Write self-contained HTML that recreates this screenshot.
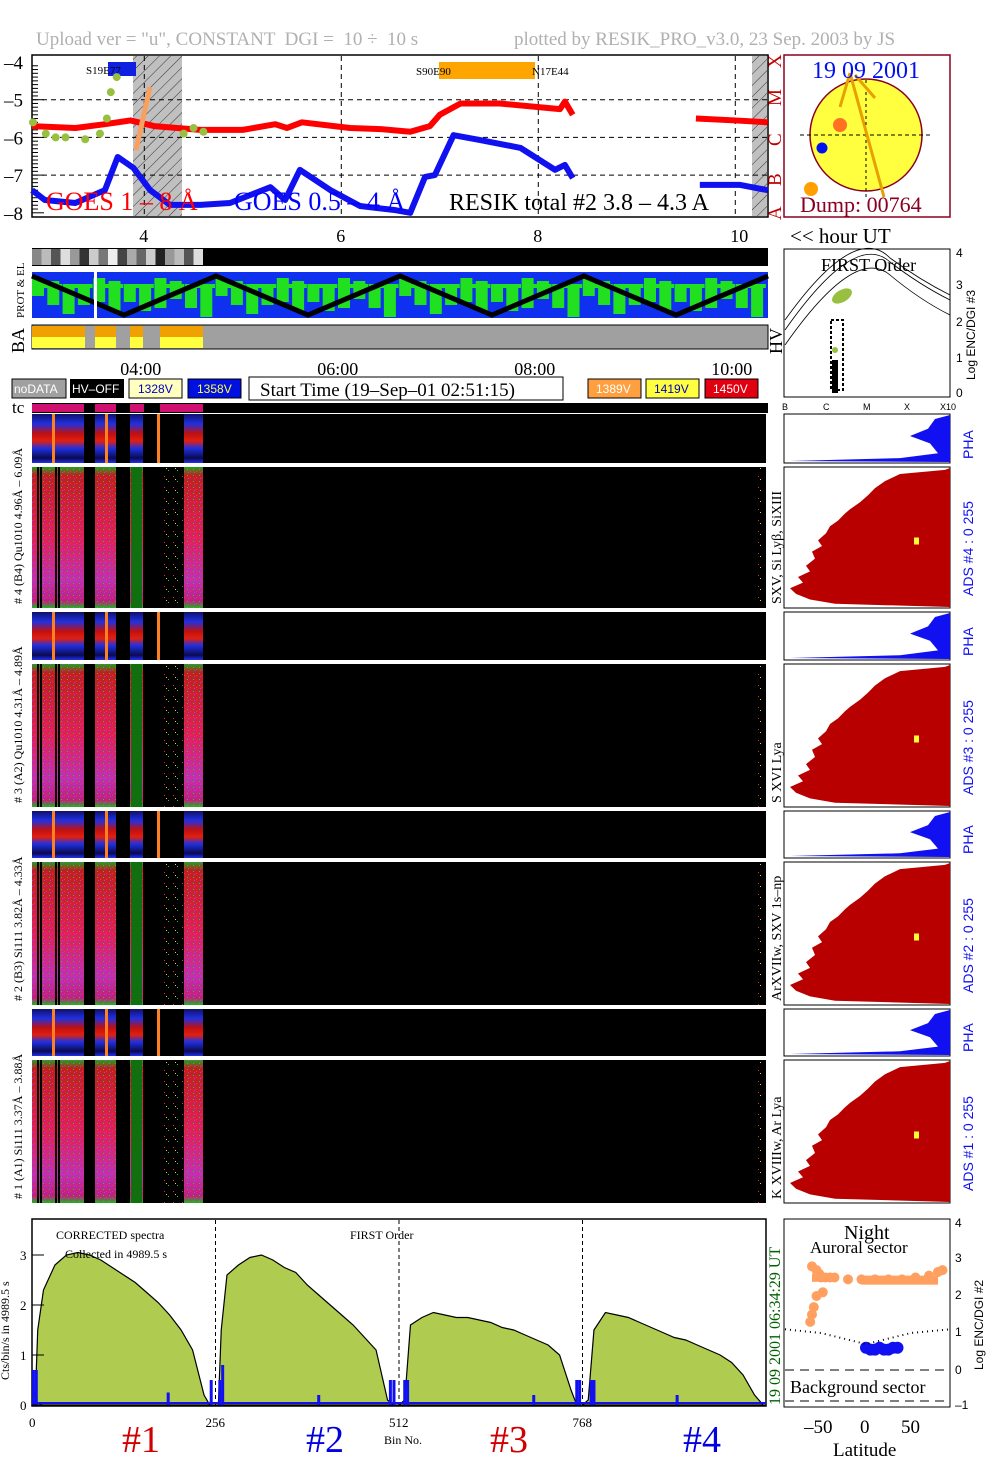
<!DOCTYPE html>
<html><head><meta charset="utf-8"><title>RESIK quicklook</title>
<style>
html,body{margin:0;padding:0;background:#fff;}
svg{display:block;font-family:"Liberation Serif",serif;}
</style></head>
<body>
<svg id="main" width="1004" height="1477" viewBox="0 0 1004 1477" xmlns="http://www.w3.org/2000/svg">
<defs>
<pattern id="hatch" width="8" height="8" patternUnits="userSpaceOnUse" patternTransform="rotate(45)">
<rect width="8" height="8" fill="#c0c0c0"/><line x1="0" y1="0" x2="0" y2="8" stroke="#333" stroke-width="1"/></pattern>
<linearGradient id="phaGrad" x1="0" y1="0" x2="0" y2="1">
<stop offset="0" stop-color="#10106a"/><stop offset="0.2" stop-color="#2030e0"/><stop offset="0.4" stop-color="#c01010"/><stop offset="0.55" stop-color="#e02010"/><stop offset="0.7" stop-color="#2030e0"/><stop offset="0.9" stop-color="#0a0a50"/><stop offset="1" stop-color="#2030f0"/></linearGradient>
<linearGradient id="bigGrad" x1="0" y1="0" x2="0" y2="1">
<stop offset="0" stop-color="#20a020"/><stop offset="0.06" stop-color="#c02020"/><stop offset="0.5" stop-color="#e0205a"/><stop offset="0.8" stop-color="#c030b0"/><stop offset="0.95" stop-color="#c02080"/><stop offset="1" stop-color="#20b020"/></linearGradient>
<pattern id="noise" width="6" height="6" patternUnits="userSpaceOnUse">
<rect width="6" height="6" fill="none"/><rect x="1" y="1" width="1" height="1" fill="#30c030"/><rect x="4" y="3" width="1" height="1" fill="#ff3030"/><rect x="2" y="4" width="1" height="1" fill="#a040ff"/></pattern>
<pattern id="sparse" width="9" height="11" patternUnits="userSpaceOnUse">
<rect x="2" y="3" width="1" height="1" fill="#ff2040"/><rect x="6" y="8" width="1" height="1" fill="#30c030"/><rect x="4" y="6" width="1" height="1" fill="#e0e020"/></pattern>
</defs>

<text x="36" y="45" font-size="19" fill="#b0b0b0" xml:space="preserve">Upload ver = "u", CONSTANT  DGI =  10 ÷  10 s</text>
<text x="514" y="45" font-size="19" fill="#b0b0b0">plotted by RESIK_PRO_v3.0, 23 Sep. 2003 by JS</text>

<g id="goes">
<rect x="32" y="55" width="736" height="162" fill="#fff" stroke="#000" stroke-width="1.5"/>
<rect x="133" y="56" width="49" height="160" fill="url(#hatch)"/>
<rect x="752" y="56" width="15" height="160" fill="url(#hatch)"/>
<g id="goesGrid" stroke="#000" stroke-dasharray="5,4" stroke-width="1"></g>
<g id="goesTicks"></g>
<rect x="108" y="62" width="28" height="14" fill="#1020e0"/>
<text x="86" y="74" font-size="11" fill="#000">S19E77</text>
<rect x="439" y="62" width="96" height="17" fill="#ffa500"/>
<text x="416" y="75" font-size="11" fill="#000">S90E90</text>
<text x="532" y="75" font-size="11" fill="#000">N17E44</text>
<g id="goesLines"></g>
<text x="46" y="210" font-size="26" fill="#ff0000">GOES 1 – 8 Å</text>
<text x="234" y="210" font-size="26" fill="#0000ff">GOES 0.5 – 4 Å</text>
<text x="449" y="210" font-size="24" fill="#000">RESIK total #2  3.8 – 4.3 A</text>
<g font-size="19" fill="#c00000">
<text transform="translate(781,220) rotate(-90)">A</text>
<text transform="translate(781,186) rotate(-90)">B</text>
<text transform="translate(781,146) rotate(-90)">C</text>
<text transform="translate(781,106) rotate(-90)">M</text>
<text transform="translate(781,68) rotate(-90)">X</text>
</g>
</g>
<g id="xAxisHours" font-size="18" fill="#000"></g>
<text x="790" y="243" font-size="21">&lt;&lt; hour UT</text>

<g>
<rect x="784" y="55" width="166" height="162" fill="#fff" stroke="#8b0020" stroke-width="1.5"/>
<circle cx="866" cy="135" r="56" fill="#ffff40" stroke="#8b0020" stroke-width="1.5"/>
<line x1="800" y1="135" x2="932" y2="135" stroke="#000" stroke-dasharray="4,3"/>
<line x1="866" y1="80" x2="866" y2="200" stroke="#000" stroke-dasharray="3,3"/>
<g stroke="#e8a000" stroke-width="3"><line x1="850" y1="73" x2="840" y2="107"/><line x1="850" y1="73" x2="884" y2="197"/><line x1="855" y1="75" x2="875" y2="98"/></g>
<circle cx="840" cy="125" r="7" fill="#ff7020"/>
<circle cx="822" cy="148" r="5.5" fill="#0010f0"/>
<circle cx="811" cy="189" r="7" fill="#ffa000"/>
<text x="812" y="78" font-size="24" fill="#0010f0">19 09 2001</text>
<text x="800" y="212" font-size="22" fill="#8b0020">Dump: 00764</text>
</g>

<g>
<rect x="32" y="248" width="736" height="18" fill="#000"/>
<g id="grayStrip"></g>
<rect x="32" y="272" width="736" height="46" fill="#1030f0"/>
<g id="greenBand"></g>
<polyline id="zigzag" fill="none" stroke="#000" stroke-width="5"/>
<rect x="94" y="272" width="3" height="46" fill="#fff"/>
<rect x="32" y="325" width="736" height="24" fill="#a0a0a0" stroke="#000"/>
<rect x="32" y="326" width="171" height="11" fill="#f0a000"/>
<rect x="32" y="337" width="171" height="11" fill="#ffff40"/>
<rect x="85" y="326" width="10" height="22" fill="#a0a0a0"/><rect x="116" y="326" width="14" height="22" fill="#a0a0a0"/><rect x="143" y="326" width="17" height="22" fill="#a0a0a0"/>
<text transform="translate(24,318) rotate(-90)" font-size="11">PROT &amp; EL</text>
<text transform="translate(24,353) rotate(-90)" font-size="18">BA</text>
<text transform="translate(782,354) rotate(-90)" font-size="18">HV</text>
</g>
<g id="timeLabels" font-size="18"></g>

<g font-family="Liberation Sans, sans-serif" font-size="12">
<rect x="12" y="379" width="54" height="19" fill="#a0a0a0" stroke="#000"/><text x="14" y="393" fill="#fff">noDATA</text>
<rect x="70" y="379" width="54" height="19" fill="#000"/><text x="72" y="393" fill="#fff">HV–OFF</text>
<rect x="129" y="379" width="53" height="19" fill="#ffffc0" stroke="#000"/><text x="138" y="393" fill="#0000c0">1328V</text>
<rect x="188" y="379" width="53" height="19" fill="#0010e0" stroke="#000"/><text x="197" y="393" fill="#ffff40">1358V</text>
<rect x="588" y="379" width="53" height="19" fill="#ffa040" stroke="#000"/><text x="596" y="393" fill="#fff">1389V</text>
<rect x="646" y="379" width="53" height="19" fill="#ffff40" stroke="#000"/><text x="654" y="393" fill="#0000c0">1419V</text>
<rect x="705" y="379" width="53" height="19" fill="#e00010" stroke="#000"/><text x="713" y="393" fill="#fff">1450V</text>
</g>
<rect x="249" y="377" width="314" height="23" fill="#fff" stroke="#000"/>
<text x="260" y="396" font-size="19">Start Time (19–Sep–01 02:51:15)</text>

<text x="12" y="413" font-size="17">tc</text>
<rect x="32" y="403" width="736" height="10" fill="#000"/>
<g id="tcBar"></g>

<g id="panels"></g>

<g id="spectrum">
<rect x="32" y="1219" width="734" height="187" fill="#fff" stroke="#000" stroke-width="1.5"/>
<g id="specMarks"></g>
<text x="56" y="1239" font-size="12">CORRECTED spectra</text>
<text x="65" y="1258" font-size="12">Collected in  4989.5 s</text>
<text x="350" y="1239" font-size="12">FIRST Order</text>
<text transform="translate(9,1380) rotate(-90)" font-size="12">Cts/bin/s in  4989.5 s</text>
<text x="384" y="1444" font-size="12">Bin No.</text>
<text x="122" y="1452" font-size="38" fill="#d00000">#1</text>
<text x="306" y="1452" font-size="38" fill="#0000e0">#2</text>
<text x="490" y="1452" font-size="38" fill="#d00000">#3</text>
<text x="683" y="1452" font-size="38" fill="#0000e0">#4</text>
<text transform="translate(780,1405) rotate(-90)" font-size="16" fill="#006000">19 09 2001    06:34:29 UT</text>
</g>

<g>
<rect x="784" y="249" width="166" height="148" fill="#fff" stroke="#000"/>
<text x="821" y="271" font-size="18">FIRST Order</text>
<path d="M785 330 Q 855 230 890 262 Q 920 285 950 300" fill="none" stroke="#000" stroke-width="0.8"/>
<path d="M785 345 Q 855 245 890 275 Q 920 300 950 315" fill="none" stroke="#000" stroke-width="0.8"/>
<path d="M785 320 Q 855 222 890 258 Q 920 280 950 295" fill="none" stroke="#000" stroke-width="0.8"/>
<ellipse cx="842" cy="296" rx="11" ry="6" fill="#98c040" transform="rotate(-30 842 296)"/>
<circle cx="835" cy="350" r="3" fill="#98c040"/>
<rect x="831" y="320" width="12" height="70" fill="none" stroke="#000" stroke-width="2" stroke-dasharray="3,2"/>
<rect x="832" y="360" width="6" height="33" fill="#000"/>
<g font-size="12" font-family="Liberation Sans, sans-serif"><text x="956" y="257">4</text><text x="956" y="289">3</text><text x="956" y="326">2</text><text x="956" y="362">1</text><text x="956" y="397">0</text></g>
<text transform="translate(975,380) rotate(-90)" font-size="12" font-family="Liberation Sans, sans-serif">Log ENC/DGI #3</text>
<g font-size="9" font-family="Liberation Sans, sans-serif"><text x="782" y="410">B</text><text x="823" y="410">C</text><text x="863" y="410">M</text><text x="904" y="410">X</text><text x="940" y="410">X10</text></g>
</g>

<g id="latPanel">
<rect x="784" y="1219" width="166" height="188" fill="#fff" stroke="#000"/>
<text x="844" y="1239" font-size="20">Night</text>
<text x="810" y="1253" font-size="17">Auroral sector</text>
<line x1="785" y1="1370" x2="950" y2="1370" stroke="#000" stroke-dasharray="9,6"/>
<line x1="785" y1="1401" x2="950" y2="1401" stroke="#000" stroke-dasharray="9,6"/>
<text x="790" y="1393" font-size="18">Background sector</text>
<g id="latMarks"></g>
<g font-size="12" font-family="Liberation Sans, sans-serif"><text x="955" y="1227">4</text><text x="955" y="1262">3</text><text x="955" y="1299">2</text><text x="955" y="1336">1</text><text x="955" y="1374">0</text><text x="955" y="1409">–1</text></g>
<text transform="translate(983,1370) rotate(-90)" font-size="12" font-family="Liberation Sans, sans-serif">Log ENC/DGI #2</text>
<g font-size="19"><text x="804" y="1433">–50</text><text x="860" y="1433">0</text><text x="901" y="1433">50</text></g>
<text x="833" y="1456" font-size="19">Latitude</text>
</g>

<script>
const goesRedHours = [2.86,3.3,3.6,3.86,4.1,4.57,5.0,5.33,5.45,5.6,6.09,6.4,6.70,6.9,7.0,7.21,7.61,8.22,8.27,8.35];
const goesRedLog   = [-5.7,-5.75,-5.65,-5.55,-5.7,-5.8,-5.8,-5.65,-5.75,-5.6,-5.75,-5.78,-5.85,-5.7,-5.4,-5.1,-5.1,-5.25,-5.05,-5.4];
const goesRedHours2 = [9.6,10.0,10.33];
const goesRedLog2   = [-5.5,-5.55,-5.6];
const goesBlueHours = [2.86,2.99,3.30,3.60,3.73,3.89,4.06,4.26,4.57,4.87,5.28,5.43,5.58,5.89,6.19,6.55,6.70,6.85,6.95,7.14,7.41,7.82,8.17,8.27,8.35];
const goesBlueLog   = [-7.40,-7.66,-7.74,-7.40,-6.52,-6.81,-7.40,-7.79,-7.79,-7.74,-7.32,-7.66,-6.86,-7.40,-7.82,-7.93,-8.0,-7.05,-7.0,-5.94,-6.07,-6.28,-6.86,-6.73,-7.08];
const goesBlueHours2 = [9.64,10.05,10.33];
const goesBlueLog2   = [-7.26,-7.26,-7.40];
const greenHours = [2.87,3.0,3.1,3.2,3.4,3.55,3.62,3.66,3.72,4.4,4.5,4.6];
const greenLog   = [-5.6,-5.9,-6.0,-6.0,-6.05,-5.9,-5.5,-4.8,-4.4,-5.9,-5.75,-5.85];
const hourTicks = [4,6,8,10];
const logTicks = [-4,-5,-6,-7,-8];

const specBins = [0,5,8,16,32,48,64,80,96,112,128,144,160,176,192,208,224,240,248,256,260,264,272,288,304,320,336,352,368,384,400,416,432,448,464,480,496,504,512,520,528,544,560,576,592,608,624,640,656,672,688,704,720,736,752,760,768,776,784,800,816,832,848,864,880,896,912,928,944,960,976,992,1008,1020,1023];
const specCounts = [0,0.3,1.5,2.3,2.8,3.0,3.05,3.0,2.9,2.75,2.6,2.45,2.25,2.05,1.8,1.5,1.1,0.2,0,0,0,1.5,2.6,2.8,2.95,3.0,2.9,2.75,2.65,2.4,2.2,2.0,1.8,1.6,1.35,1.1,0.1,0,0,0.1,1.6,1.75,1.85,1.8,1.75,1.75,1.7,1.65,1.55,1.5,1.4,1.3,1.2,1.0,0.3,0,0,0.1,1.5,1.85,1.8,1.75,1.65,1.55,1.45,1.35,1.3,1.2,1.1,1.0,0.85,0.6,0.2,0,0];
const bgBins = [2,6,12,190,250,262,266,400,500,505,520,524,700,760,764,780,784,900];
const bgCounts = [0.7,0.7,0.05,0.25,0.5,0.5,0.8,0.2,0.5,0.5,0.5,0.5,0.2,0.5,0.5,0.5,0.5,0.2];
const specYTicks = [0,1,2,3];
const specXTicks = [0,256,512,768];

const auroralLat = [-60,-55,-52,-50,-45,-40,-35,-20,-5,10,25,40,55,70,80,85,-55,-58,-60,-48,-62];
const auroralLog = [2.8,2.7,2.6,2.5,2.5,2.5,2.5,2.45,2.45,2.45,2.45,2.45,2.5,2.55,2.65,2.7,2.0,1.7,1.5,2.1,1.3];
const quietLat = [0,5,10,15,20,25,30,35];
const quietLog = [0.6,0.55,0.55,0.6,0.55,0.55,0.6,0.6];

const NS = "http://www.w3.org/2000/svg";
function mk(tag, attrs, parent){const e=document.createElementNS(NS,tag);for(const k in attrs)e.setAttribute(k,attrs[k]);parent.appendChild(e);return e;}

const gx = h => 32 + (h - 2.86) * 98.5;
const gy = l => 62 + (-4 - l) * 37.7;
const grid = document.getElementById('goesGrid');
for (const t of hourTicks){ if(t<10.4){const l=mk('line',{x1:gx(t),y1:56,x2:gx(t),y2:216},grid);

}}
for (const t of [-5,-6,-7]){const l=mk('line',{x1:33,y1:gy(t),x2:767,y2:gy(t)},grid);

}
const ticks = document.getElementById('goesTicks');
for (const t of logTicks){const tx=mk('text',{x:4,y:gy(t)+7,'font-size':19},ticks);tx.textContent='–'+Math.abs(t);

}
for (let v=-8; v<=-4.01; v+=0.1){mk('line',{x1:32,y1:gy(v),x2:(Math.abs(v-Math.round(v))<0.01?44:38),y2:gy(v),stroke:'#000'},ticks);}
const xa = document.getElementById('xAxisHours');
for (const t of hourTicks){const tx=mk('text',{x:gx(t)-5,y:242},xa);tx.textContent=t;

}
const gl = document.getElementById('goesLines');
function series(hs, ls, color, w, name){
  const p = mk('polyline',{points:hs.map((h,i)=>gx(h)+','+gy(ls[i])).join(' '),fill:'none',stroke:color,'stroke-width':w,'stroke-linejoin':'round'},gl);
  
  
}
series(goesRedHours,goesRedLog,'#ff0000',6,'goes-long-series');
series(goesRedHours2,goesRedLog2,'#ff0000',6,'goes-long-series-late');
series(goesBlueHours,goesBlueLog,'#1010f0',6,'goes-short-series');
series(goesBlueHours2,goesBlueLog2,'#1010f0',6,'goes-short-series-late');
greenHours.forEach((h,i)=>{const c=mk('circle',{cx:gx(h),cy:gy(greenLog[i]),r:4,fill:'#98c040'},gl);

});
mk('line',{x1:136,y1:150,x2:150,y2:87,stroke:'#f8a060','stroke-width':5},gl);

const gs = document.getElementById('grayStrip');
const grays=['#888','#bbb','#555','#ddd','#999','#333','#ccc','#777','#eee','#444','#aaa','#666','#ccc','#222','#999','#bbb','#555','#ddd'];
grays.forEach((c,i)=>mk('rect',{x:32+i*9.5,y:249,width:9.5,height:16,fill:c},gs));
const gb = document.getElementById('greenBand');
for(let i=0;i<48;i++){mk('rect',{x:32+i*15.3,y:278+(i%4)*3,width:12,height:18+(i%3)*6,fill:'#20e020'},gb);}
for(let i=0;i<24;i++){mk('rect',{x:36+i*30.6,y:284,width:26,height:4,fill:'#20e020'},gb);}
const zz=[]; for(let i=0;i<=8;i++){zz.push((32+i*92)+','+(i%2===0?276:315));}
document.getElementById('zigzag').setAttribute('points',zz.join(' '));
const tl=document.getElementById('timeLabels');
['04:00','06:00','08:00','10:00'].forEach((s,i)=>{const tx=mk('text',{x:gx(hourTicks[i])-24,y:375},tl);tx.textContent=s;

});

const tc=document.getElementById('tcBar');
[[32,84],[95,116],[130,144],[160,203]].forEach(s=>mk('rect',{x:s[0],y:404,width:s[1]-s[0],height:8,fill:'#d01070'},tc));

const P=document.getElementById('panels');
const groups=[
 {s:[414,463],b:[467,608],lab:'# 4 (B4) Qu1010 4.96Å – 6.09Å',line:'SXV, Si Lyβ, SiXIII',ads:'ADS #4 :   0 255',n:4},
 {s:[612,660],b:[664,807],lab:'# 3 (A2) Qu1010 4.31Å – 4.89Å',line:'S XVI Lya',ads:'ADS #3 :   0 255',n:3},
 {s:[811,858],b:[862,1005],lab:'# 2 (B3) Si111 3.82Å – 4.33Å',line:'ArXVIIw, SXV 1s–np',ads:'ADS #2 :   0 255',n:2},
 {s:[1009,1056],b:[1060,1203],lab:'# 1 (A1) Si111 3.37Å – 3.88Å',line:'K XVIIIw, Ar Lya',ads:'ADS #1 :   0 255',n:1}];
const segs=[[32,84],[95,116],[130,143],[184,203]];
const adsEdge=[[0.02,945],[0.05,900],[0.1,885],[0.15,875],[0.2,868],[0.25,860],[0.3,850],[0.33,845],[0.38,838],[0.42,830],[0.47,826],[0.52,818],[0.56,822],[0.6,812],[0.65,815],[0.7,806],[0.74,810],[0.78,798],[0.82,803],[0.86,790],[0.9,796],[0.94,810],[0.97,835]];
groups.forEach(g=>{
  const sh=g.s[1]-g.s[0], bh=g.b[1]-g.b[0];
  const ps=mk('rect',{x:32,y:g.s[0],width:734,height:sh,fill:'#000'},P);
  
  
  segs.forEach(s=>mk('rect',{x:s[0],y:g.s[0],width:s[1]-s[0],height:sh,fill:'url(#phaGrad)'},P));
  [52,105,157].forEach(x=>mk('rect',{x:x,y:g.s[0],width:3,height:sh,fill:'#ff8020'},P));
  const pb=mk('rect',{x:32,y:g.b[0],width:734,height:bh,fill:'#000'},P);
  
  
  segs.forEach(s=>{mk('rect',{x:s[0],y:g.b[0],width:s[1]-s[0],height:bh,fill:'url(#bigGrad)'},P);mk('rect',{x:s[0],y:g.b[0],width:s[1]-s[0],height:bh,fill:'url(#noise)'},P);});
  [37,40,55,58,84,88].forEach(x=>mk('rect',{x:x,y:g.b[0],width:2,height:bh,fill:'#000'},P));
  mk('rect',{x:131,y:g.b[0],width:11,height:bh,fill:'#107010'},P);
  mk('rect',{x:160,y:g.b[0],width:24,height:bh,fill:'url(#sparse)'},P);
  mk('rect',{x:758,y:g.b[0],width:4,height:bh,fill:'url(#sparse)'},P);
  const t1=mk('text',{transform:`translate(22,${g.b[1]-4}) rotate(-90)`,'font-size':12},P);t1.textContent=g.lab;
  
  
  const t2=mk('text',{transform:`translate(781,${g.b[1]-4}) rotate(-90)`,'font-size':14},P);t2.textContent=g.line;
  
  
  const rp=mk('rect',{x:784,y:g.s[0],width:166,height:sh,fill:'#fff',stroke:'#000'},P);
  
  
  const y0=g.s[0];
  mk('path',{d:`M950 ${y0+1} L935 ${y0+5} L928 ${y0+sh*0.3} L910 ${y0+sh*0.45} L930 ${y0+sh*0.6} L938 ${y0+sh*0.8} L900 ${y0+sh*0.9} L790 ${y0+sh-2} L950 ${y0+sh-1}Z`,fill:'#1010f0'},P);
  const rb=mk('rect',{x:784,y:g.b[0],width:166,height:bh,fill:'#fff',stroke:'#000'},P);
  
  
  const b0=g.b[0];
  mk('polygon',{points:'950,'+(b0+1)+' '+adsEdge.map(e=>e[1]+','+(b0+bh*e[0])).join(' ')+' 950,'+(b0+bh-1),fill:'#b80000'},P);
  mk('rect',{x:914,y:b0+bh*0.5,width:5,height:7,fill:'#ffff30'},P);
  const t3=mk('text',{transform:`translate(973,${g.s[1]-4}) rotate(-90)`,'font-size':14,fill:'#1010f0','font-family':'Liberation Sans, sans-serif'},P);t3.textContent='PHA';
  
  
  const t4=mk('text',{transform:`translate(973,${g.b[1]-12}) rotate(-90)`,'font-size':14,fill:'#1010f0','font-family':'Liberation Sans, sans-serif'},P);t4.textContent=g.ads;
  
  
});

const sx = b => 32 + b * 0.7168;
const sy = v => 1405 - v * 50;
const sm=document.getElementById('specMarks');
[256,512,768].forEach(b=>mk('line',{x1:sx(b),y1:1220,x2:sx(b),y2:1405,stroke:'#000','stroke-dasharray':'4,3'},sm));
const area=mk('polygon',{points:specBins.map((b,i)=>sx(b)+','+sy(specCounts[i])).join(' ')+' '+sx(1023)+','+sy(0)+' '+sx(0)+','+sy(0),fill:'#b0cc50',stroke:'#000','stroke-width':1.2},sm);


bgBins.forEach((b,i)=>{const l=mk('line',{x1:sx(b),y1:sy(0),x2:sx(b),y2:sy(bgCounts[i]),stroke:'#1010f0','stroke-width':3},sm);

});
mk('line',{x1:32,y1:1403,x2:766,y2:1403,stroke:'#1010f0','stroke-width':2},sm);
specYTicks.forEach(v=>{const t=mk('text',{x:20,y:sy(v)+5,'font-size':13},sm);t.textContent=v;


mk('line',{x1:32,y1:sy(v),x2:44,y2:sy(v),stroke:'#000'},sm);});
specXTicks.forEach(v=>{const t=mk('text',{x:sx(v)-(v?10:3),y:1427,'font-size':13},sm);t.textContent=v;

});

const lx = l => 866 + l * 0.9;
const ly = v => 1370 - v * 37;
const lm=document.getElementById('latMarks');
auroralLat.forEach((l,i)=>{const c=mk('circle',{cx:lx(l),cy:ly(auroralLog[i]),r:5,fill:'#ffa060'},lm);

});
mk('rect',{x:lx(-60),y:ly(2.6),width:lx(-40)-lx(-60),height:8,fill:'#ffa060'},lm);
mk('rect',{x:lx(-5),y:ly(2.55),width:lx(80)-lx(-5),height:9,fill:'#ffa060'},lm);
quietLat.forEach((l,i)=>{const c=mk('circle',{cx:lx(l),cy:ly(quietLog[i]),r:6,fill:'#1010f0'},lm);

});
mk('path',{d:`M785 ${ly(1.1)} L${lx(-50)} ${ly(1.0)} L${lx(0)} ${ly(0.7)} L${lx(50)} ${ly(1.0)} L950 ${ly(1.1)}`,fill:'none',stroke:'#000','stroke-width':2,'stroke-dasharray':'1,4'},lm);
</script>
</svg>
</body></html>
